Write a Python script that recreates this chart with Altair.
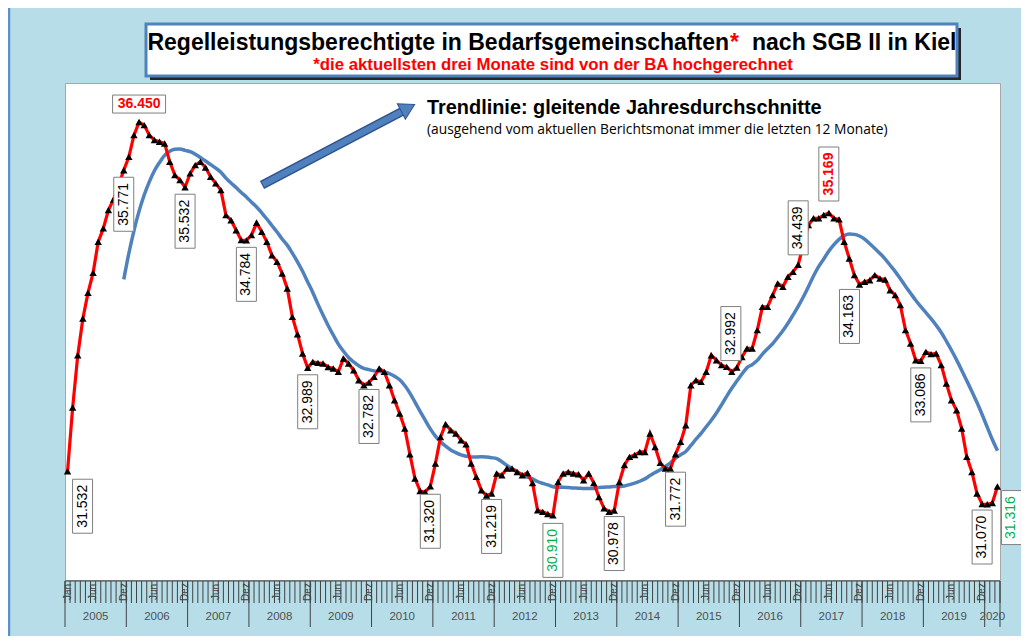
import altair as alt
import pandas as pd

# ---------------- data ----------------
values = [
    31532, 32429, 33166, 33684, 34044, 34326, 34763, 34952, 35209, 35360, 35562, 35771,   # 2005
    35960, 36266, 36450, 36407, 36266, 36196, 36172, 36149, 35890, 35703, 35632, 35532,   # 2006
    35727, 35843, 35890, 35811, 35679, 35586, 35491, 35139, 35068, 34927, 34787, 34784,   # 2007
    34857, 35031, 34905, 34763, 34575, 34481, 34318, 34106, 33706, 33462, 33190, 32989,   # 2008
    33072, 33058, 33049, 33001, 32979, 32931, 33120, 33049, 32955, 32814, 32744, 32782,   # 2009
    32861, 32979, 32931, 32744, 32532, 32345, 32134, 31772, 31429, 31254, 31240, 31320,   # 2010
    31640, 32015, 32194, 32110, 32063, 31969, 31912, 31640, 31452, 31264, 31190, 31219,   # 2011
    31500, 31476, 31570, 31570, 31522, 31476, 31508, 31367, 30983, 30960, 30930, 30910,   # 2012
    31381, 31500, 31522, 31500, 31490, 31405, 31500, 31367, 31170, 31010, 30960, 30978,   # 2013
    31381, 31620, 31734, 31760, 31804, 31804, 32063, 31874, 31650, 31570, 31570, 31772,   # 2014
    31945, 32180, 32744, 32814, 32790, 32931, 33166, 33096, 33026, 33002, 32931, 32992,   # 2015
    33142, 33261, 33261, 33519, 33847, 33847, 34012, 34177, 34129, 34270, 34340, 34439,   # 2016
    34720, 35000, 35094, 35094, 35140, 35169, 35094, 35079, 34763, 34529, 34294, 34163,   # 2017
    34200, 34223, 34294, 34247, 34233, 34082, 34012, 33871, 33519, 33331, 33096, 33086,   # 2018
    33213, 33181, 33190, 33026, 32768, 32532, 32391, 32134, 31734, 31522, 31218, 31070,   # 2019
    31067, 31085, 31316,                                                                 # 2020
]
month_abbr = ["Jan", "Feb", "Mär", "Apr", "Mai", "Jun", "Jul", "Aug", "Sep", "Okt", "Nov", "Dez"]
first_year = 2005
years = list(range(2005, 2021))
axis_month_names = ["Jan", "Jun", "Dez"]

# labelled months (index into values) and their kind
label_months = [0, 11, 14, 23, 35, 47, 59, 71, 83, 95, 107, 119, 131, 143, 149, 155, 167, 179, 182]
label_kind = ["n", "n", "max", "n", "n", "n", "n", "n", "n", "min", "n", "n", "n", "n", "max", "n", "n", "n", "last"]

title_left = "Regelleistungsberechtigte  in Bedarfsgemeinschaften"
title_star = "*"
title_right = "nach SGB II in Kiel"
subtitle = "*die aktuellsten drei Monate sind von der BA hochgerechnet"
trend_title = "Trendlinie: gleitende Jahresdurchschnitte"
trend_note = "(ausgehend vom aktuellen Berichtsmonat immer die letzten 12 Monate)"

# ---------------- layout / style ----------------
W, H = 935, 497
BG = "#b7dee8"
RED = "#ff0000"
GREEN = "#00b050"
BLUE = "#4f81bd"
DARKBLUE = "#2f528f"
AXC = "#404040"
FONT = "Liberation Sans"

kind_color = {"n": "black", "max": RED, "min": GREEN, "last": GREEN}
# pixel offsets of the label boxes relative to their point (style, not data)
label_dx = {0: 15, 131: -6, 155: -10, 182: 14}
label_dy = {0: 35, 14: -18, 71: 35, 83: 33, 95: 35, 107: 33, 119: 45, 131: -34,
            143: -37, 149: -39, 155: 32, 179: 33, 182: 31}

n = len(values)
df = pd.DataFrame({
    "m": list(range(n)),
    "v": values,
    "monat": [f"{month_abbr[i % 12]} {first_year + i // 12}" for i in range(n)],
})

xs = alt.Scale(domain=[-0.5, n - 0.5], nice=False, zero=False)
ys = alt.Scale(domain=[30000, 37000], nice=False, zero=False)
X = alt.X("m:Q", scale=xs, axis=None)
Y = alt.Y("v:Q", scale=ys, axis=None)

base = alt.Chart(df)

red_line = base.mark_line(color=RED, strokeWidth=3.2).encode(x=X, y=Y)
tri = base.mark_point(shape="triangle-up", filled=True, color="black", size=55, opacity=1).encode(
    x=X, y=Y, tooltip=["monat:N", "v:Q"])

trend = base.transform_window(
    trend="mean(v)", frame=[-11, 0], sort=[alt.SortField("m")]
).transform_filter("datum.m >= 11").mark_line(
    color=BLUE, strokeWidth=3.5, interpolate="monotone"
).encode(x=X, y=alt.Y("trend:Q", scale=ys, axis=None))

box_v = "M-1,-2.7L1,-2.7L1,2.7L-1,2.7Z"
box_h = "M-2.65,-0.9L2.65,-0.9L2.65,0.9L-2.65,0.9Z"

label_layers = []
for m, kind in zip(label_months, label_kind):
    row = pd.DataFrame({"m": [m], "v": [values[m]],
                        "txt": [f"{values[m]:,}".replace(",", ".")]})
    dx = label_dx.get(m, 0)
    dy = label_dy.get(m, 34)
    horizontal = (m == 14)
    label_layers.append(alt.Chart(row).mark_point(
        shape=box_h if horizontal else box_v, filled=True, fill="white", stroke="#7f7f7f",
        strokeWidth=1, size=400, opacity=1, xOffset=dx, yOffset=dy).encode(x=X, y=Y))
    label_layers.append(alt.Chart(row).mark_text(
        angle=0 if horizontal else 270, fontSize=14, font=FONT, align="center", baseline="middle",
        fontWeight="bold" if kind == "max" else "normal", color=kind_color[kind],
        xOffset=dx, yOffset=dy).encode(x=X, y=Y, text="txt:N"))

# ---------------- category axis below the plot ----------------
bounds = pd.DataFrame({"b": [i + 0.5 for i in range(-1, n)]})
bounds["year"] = [((i + 1) % 12 == 0) or (i == n - 1) for i in range(-1, n)]
BX = alt.X("b:Q", scale=xs, axis=None)

axis_line = alt.Chart(pd.DataFrame({"a": [-0.5], "b": [n - 0.5]})).mark_rule(
    color=AXC, strokeWidth=1).encode(x=alt.X("a:Q", scale=xs, axis=None), x2="b:Q",
                                     y=alt.value(H + 1))
small_ticks = alt.Chart(bounds).mark_rule(color=AXC, strokeWidth=1).encode(
    x=BX, y=alt.value(H + 1), y2=alt.value(H + 23))
year_ticks = alt.Chart(bounds[bounds["year"]]).mark_rule(color=AXC, strokeWidth=1).encode(
    x=BX, y=alt.value(H + 1), y2=alt.value(H + 47))

mlab = df[[(i == 0) or (month_abbr[i % 12] in axis_month_names[1:]) for i in range(n)]].copy()
mlab["name"] = [month_abbr[i % 12] for i in mlab["m"]]
month_text = alt.Chart(mlab).mark_text(angle=270, fontSize=10, font=FONT, color=AXC,
                                       align="center", baseline="middle").encode(
    x=X, y=alt.value(H + 12), text="name:N")

ylab = pd.DataFrame({
    "year": [str(y) for y in years],
    "c": [((12 * k - 0.5) + min(12 * k + 11.5, n - 0.5)) / 2 for k in range(len(years))],
})
year_text = alt.Chart(ylab).mark_text(fontSize=11.5, font=FONT, color="#505050", align="center",
                                      baseline="middle").encode(
    x=alt.X("c:Q", scale=xs, axis=None), y=alt.value(H + 37), text="year:N")

# ---------------- frame, title box, arrow and notes ----------------
c1 = alt.Chart(pd.DataFrame({"k": [0]}))
frame_line = c1.mark_rule(color="#5b8fd0", strokeWidth=2.5).encode(
    x=alt.value(-56), y=alt.value(-75), y2=alt.value(H + 56))
shadow = c1.mark_rect(color="#262626").encode(
    x=alt.value(85), x2=alt.value(896), y=alt.value(-55), y2=alt.value(-3))
tbox = c1.mark_rect(fill="white", stroke=BLUE, strokeWidth=3).encode(
    x=alt.value(81), x2=alt.value(892), y=alt.value(-59), y2=alt.value(-7))
t_left = c1.mark_text(text=title_left, font=FONT, fontSize=23, fontWeight="bold", color="black",
                      align="right", baseline="middle").encode(x=alt.value(664), y=alt.value(-40))
t_star = c1.mark_text(text=title_star, font=FONT, fontSize=23, fontWeight="bold", color=RED,
                      align="left", baseline="middle").encode(x=alt.value(665), y=alt.value(-40))
t_right = c1.mark_text(text=title_right, font=FONT, fontSize=23, fontWeight="bold", color="black",
                       align="left", baseline="middle").encode(x=alt.value(687), y=alt.value(-40))
sub = c1.mark_text(text=subtitle, font=FONT, fontSize=16.8, fontWeight="bold", color=RED,
                   align="center", baseline="middle").encode(x=alt.value(488), y=alt.value(-18))

arrow_out = c1.mark_rule(color=DARKBLUE, strokeWidth=9).encode(
    x=alt.value(197), y=alt.value(102), x2=alt.value(338), y2=alt.value(28))
arrow_in = c1.mark_rule(color=BLUE, strokeWidth=6).encode(
    x=alt.value(198), y=alt.value(101.5), x2=alt.value(338), y2=alt.value(28))
arrow_head = c1.mark_point(shape="triangle-right", filled=True, fill=BLUE, stroke=DARKBLUE,
                           strokeWidth=1, size=300, opacity=1, angle=332.3).encode(
    x=alt.value(343), y=alt.value(25))

note1 = c1.mark_text(text=trend_title, font=FONT, fontSize=19.9, fontWeight="bold", color="black",
                     align="left", baseline="middle").encode(x=alt.value(362), y=alt.value(25))
note2 = c1.mark_text(text=trend_note, font="Open Sans", fontSize=13.8, color="black",
                     align="left", baseline="middle").encode(x=alt.value(362), y=alt.value(47))

chart = alt.layer(
    frame_line, shadow, tbox, t_left, t_star, t_right, sub,
    axis_line, small_ticks, year_ticks, month_text, year_text,
    trend, red_line, tri, *label_layers,
    arrow_out, arrow_in, arrow_head, note1, note2,
).properties(
    width=W, height=H, background=BG,
    padding={"left": 57, "top": 75, "right": 21, "bottom": 56},
    autosize=alt.AutoSizeParams(type="none"),
).configure_view(fill="white", stroke="#a6a6a6", strokeWidth=1)

chart.save("out.html", embed_options={"renderer": "svg", "actions": False})
